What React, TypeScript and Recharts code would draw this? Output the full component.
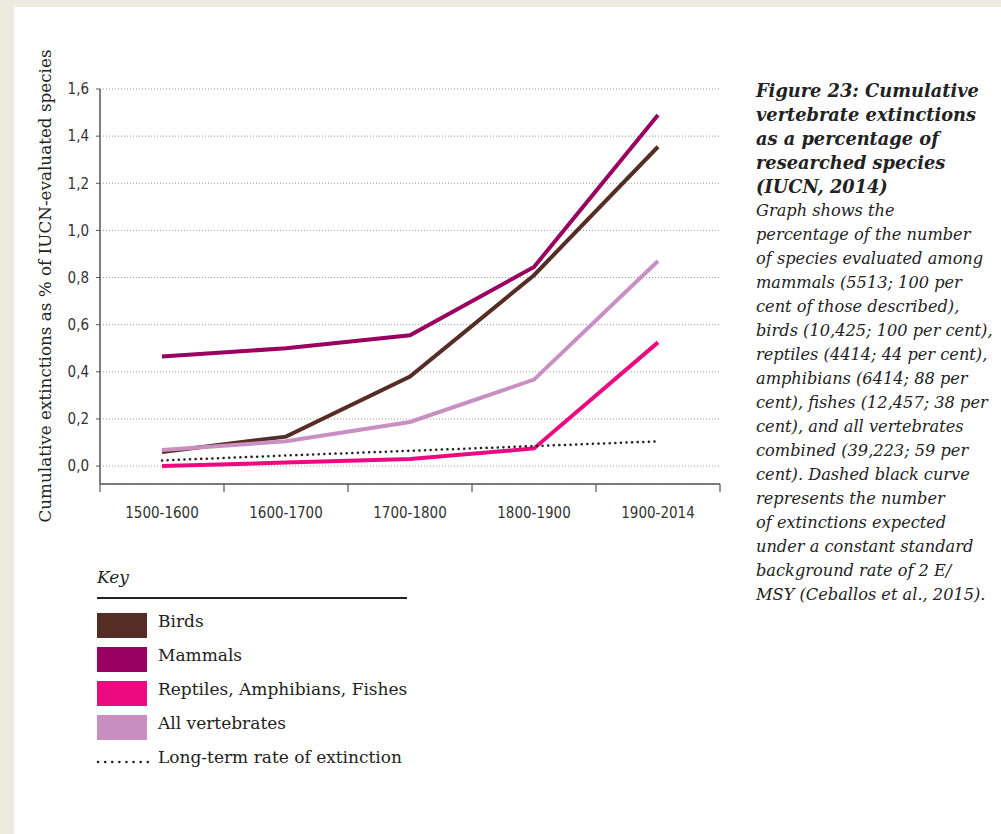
import React from 'react';
import { LineChart, Line, XAxis, YAxis, CartesianGrid } from 'recharts';

const categories = ['1500-1600', '1600-1700', '1700-1800', '1800-1900', '1900-2014'];
const birds = [0.06, 0.125, 0.38, 0.81, 1.355];
const mammals = [0.465, 0.5, 0.555, 0.845, 1.49];
const reptilesAmphibiansFishes = [0.0, 0.015, 0.03, 0.075, 0.525];
const allVertebrates = [0.068, 0.105, 0.187, 0.367, 0.87];
const longTermRate = [0.024, 0.045, 0.065, 0.085, 0.105];
const yTicks = [0, 0.2, 0.4, 0.6, 0.8, 1.0, 1.2, 1.4, 1.6];

const seriesKey = [
  { name: 'Birds', color: '#552d24' },
  { name: 'Mammals', color: '#990060' },
  { name: 'Reptiles, Amphibians, Fishes', color: '#ec0a80' },
  { name: 'All vertebrates', color: '#c98fc3' },
];

const captionTitle = [
  'Figure 23: Cumulative',
  'vertebrate extinctions',
  'as a percentage of',
  'researched species',
  '(IUCN, 2014)',
];
const captionBody = [
  'Graph shows the',
  'percentage of the number',
  'of species evaluated among',
  'mammals (5513; 100 per',
  'cent of those described),',
  'birds (10,425; 100 per cent),',
  'reptiles (4414; 44 per cent),',
  'amphibians (6414; 88 per',
  'cent), fishes (12,457; 38 per',
  'cent), and all vertebrates',
  'combined (39,223; 59 per',
  'cent). Dashed black curve',
  'represents the number',
  'of extinctions expected',
  'under a constant standard',
  'background rate of 2 E/',
  'MSY (Ceballos et al., 2015).',
];

const data = categories.map((label, i) => ({
  pos: i + 0.5,
  label,
  birds: birds[i],
  mammals: mammals[i],
  reptiles: reptilesAmphibiansFishes[i],
  all: allVertebrates[i],
  longTerm: longTermRate[i],
}));

// category labels sit at band centres, tick marks at band edges
const xTicks: number[] = [];
for (let i = 0; i <= categories.length * 2; i++) xTicks.push(i / 2);

const serif = '"DejaVu Serif", Georgia, serif';
const narrow = '"Liberation Sans Narrow", "DejaVu Sans Condensed", Arial, sans-serif';
const axisGray = '#555';

const XTick = ({ x, y, payload }: any) => {
  const v = payload.value as number;
  if (Number.isInteger(v)) {
    return <line x1={x} x2={x} y1={y} y2={y + 8} stroke={axisGray} strokeWidth={1.2} />;
  }
  return (
    <text x={x} y={y + 23} dy="0.71em" textAnchor="middle" fill="#333" fontSize={15} fontFamily={narrow}>
      {categories[Math.floor(v)]}
    </text>
  );
};

export default function App() {
  return (
    <div style={{ position: 'relative', width: 1001, height: 834, background: '#ecebe1', overflow: 'hidden' }}>
      <style>{'body{margin:0}'}</style>
      <div style={{ position: 'absolute', left: 14, top: 7, right: 0, bottom: 0, background: '#fff' }} />

      <div style={{ position: 'absolute', left: 0, top: 0 }}>
        <LineChart width={740} height={540} data={data} margin={{ top: 89, right: 20, bottom: 0, left: 55 }}>
          <CartesianGrid vertical={false} stroke="#9a9a9a" strokeDasharray="1 2" />
          <XAxis
            dataKey="pos"
            type="number"
            domain={[0, categories.length]}
            ticks={xTicks}
            interval={0}
            axisLine={{ stroke: axisGray, strokeWidth: 1.5 }}
            tickLine={false}
            tickSize={0}
            tickMargin={0}
            height={56}
            tick={<XTick />}
          />
          <YAxis
            type="number"
            domain={[-0.076, 1.6]}
            ticks={yTicks}
            width={45}
            interval={0}
            tickFormatter={(v: number) => v.toFixed(1).replace('.', ',')}
            axisLine={{ stroke: axisGray, strokeWidth: 1.5 }}
            tickLine={{ stroke: axisGray }}
            tickSize={4}
            tickMargin={7}
            tick={{ fill: '#333', fontSize: 15, fontFamily: narrow }}
          />
          <Line dataKey="birds" stroke={seriesKey[0].color} strokeWidth={4} dot={false} isAnimationActive={false} />
          <Line dataKey="mammals" stroke={seriesKey[1].color} strokeWidth={4} dot={false} isAnimationActive={false} />
          <Line dataKey="all" stroke={seriesKey[3].color} strokeWidth={4} dot={false} isAnimationActive={false} />
          <Line dataKey="reptiles" stroke={seriesKey[2].color} strokeWidth={4} dot={false} isAnimationActive={false} />
          <Line
            dataKey="longTerm"
            stroke="#222"
            strokeWidth={2.5}
            strokeDasharray="0.1 5.5"
            strokeLinecap="round"
            dot={false}
            isAnimationActive={false}
          />
        </LineChart>
      </div>

      {/* y axis title */}
      <div
        style={{
          position: 'absolute',
          left: 45,
          top: 286,
          transform: 'translate(-50%, -50%) rotate(-90deg)',
          whiteSpace: 'nowrap',
          fontFamily: serif,
          fontSize: 16.8,
          color: '#222',
        }}
      >
        Cumulative extinctions as % of IUCN-evaluated species
      </div>

      {/* caption */}
      <div
        style={{
          position: 'absolute',
          left: 756,
          top: 79,
          fontFamily: serif,
          fontStyle: 'italic',
          fontSize: 16.2,
          lineHeight: '24px',
          color: '#222',
          whiteSpace: 'nowrap',
        }}
      >
        {captionTitle.map((t) => (
          <div key={t} style={{ fontWeight: 'bold', fontSize: 17.8 }}>{t}</div>
        ))}
        {captionBody.map((t) => (
          <div key={t}>{t}</div>
        ))}
      </div>

      {/* key */}
      <div style={{ position: 'absolute', left: 97, top: 567, fontFamily: serif, fontStyle: 'italic', fontSize: 17, color: '#222' }}>
        Key
      </div>
      <div style={{ position: 'absolute', left: 97, top: 597, width: 310, height: 2, background: '#222' }} />
      {seriesKey.map((s, i) => (
        <div key={s.name}>
          <div style={{ position: 'absolute', left: 97, top: 613 + i * 34, width: 50, height: 25, background: s.color }} />
          <div
            style={{
              position: 'absolute',
              left: 158,
              top: 611 + i * 34,
              fontFamily: serif,
              fontSize: 17,
              color: '#222',
              whiteSpace: 'nowrap',
            }}
          >
            {s.name}
          </div>
        </div>
      ))}
      <svg style={{ position: 'absolute', left: 95, top: 756 }} width={60} height={12}>
        <line x1={3} x2={54} y1={6} y2={6} stroke="#222" strokeWidth={2.5} strokeDasharray="0.1 7" strokeLinecap="round" />
      </svg>
      <div
        style={{
          position: 'absolute',
          left: 158,
          top: 747,
          fontFamily: serif,
          fontSize: 17,
          color: '#222',
          whiteSpace: 'nowrap',
        }}
      >
        Long-term rate of extinction
      </div>
    </div>
  );
}
